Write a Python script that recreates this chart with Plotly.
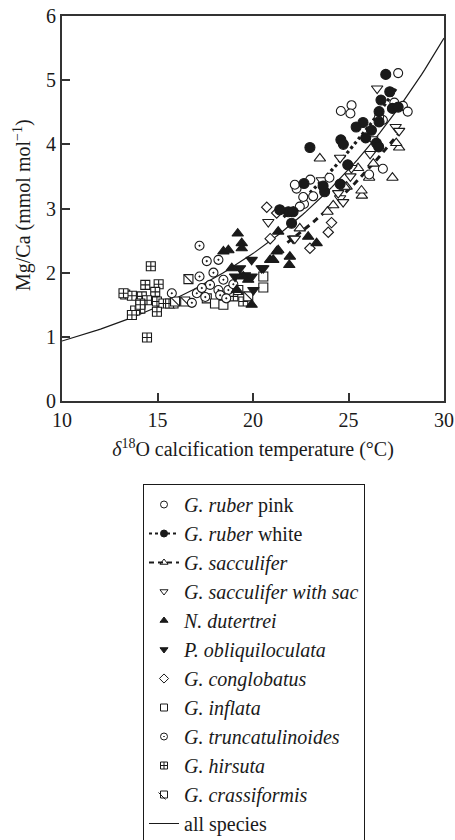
import numpy as np
import plotly.graph_objects as go

# ---------------- data ----------------
ruber_pink_T = [27.6, 25.16, 24.6, 25.1, 27.4, 27.85, 28.1, 26.8, 26.8, 26.08, 22.28, 22.67, 23.0, 22.19, 22.63, 23.15, 22.45, 26.6, 24.0]
ruber_pink_M = [5.11, 4.61, 4.52, 4.48, 4.65, 4.60, 4.51, 4.38, 3.62, 3.53, 3.31, 3.07, 3.45, 3.37, 3.18, 3.19, 3.03, 4.43, 3.48]

ruber_white_T = [26.95, 27.16, 26.7, 27.3, 27.6, 26.6, 25.76, 25.4, 26.2, 26.6, 26.46, 24.6, 22.98, 24.73, 24.96, 26.58, 24.56, 23.75, 22.67, 23.67, 22.02, 21.85, 22.1, 21.4, 25.9]
ruber_white_M = [5.09, 4.82, 4.69, 4.56, 4.58, 4.51, 4.34, 4.27, 4.22, 4.35, 4.02, 4.07, 3.95, 4.00, 3.68, 3.96, 3.38, 3.26, 3.39, 3.35, 2.77, 2.95, 2.95, 2.98, 4.10]

sacc_T = [23.5, 25.5, 26.08, 27.65, 27.3, 25.7, 24.9, 27.5, 25.68, 24.8, 22.45, 23.9, 26.3, 24.2]
sacc_M = [3.78, 3.63, 3.48, 3.95, 3.48, 3.20, 3.34, 4.02, 3.28, 3.34, 2.69, 2.95, 3.70, 3.05]

sacc_sac_T = [26.5, 27.47, 26.25, 24.56, 25.15, 26.13, 27.65, 25.1, 24.56, 20.8, 22.19, 24.72, 24.46, 23.6]
sacc_sac_M = [4.87, 4.27, 4.08, 3.79, 3.63, 3.85, 4.21, 3.50, 3.16, 2.79, 2.53, 3.10, 3.24, 3.44]

dutertrei_T = [19.2, 19.41, 19.41, 18.45, 18.71, 21.24, 18.89, 19.49, 19.75, 19.93, 19.15, 20.9, 21.32, 22.89, 23.33, 21.32, 21.06, 21.93, 21.9]
dutertrei_M = [2.61, 2.46, 2.38, 2.33, 2.35, 2.33, 2.07, 1.94, 1.89, 1.50, 1.73, 2.20, 2.64, 2.56, 2.46, 2.35, 2.20, 2.25, 2.12]

obliq_T = [19.93, 20.45, 19.32, 19.58, 19.93, 19.06, 20.02, 22.1, 20.54]
obliq_M = [2.20, 2.07, 2.07, 1.96, 1.94, 1.94, 1.73, 2.53, 2.07]

conglob_T = [20.72, 21.24, 20.9, 24.11, 23.94, 22.98]
conglob_M = [3.02, 2.93, 2.53, 2.78, 2.63, 2.38]

inflata_T = [20.54, 20.54, 17.58, 18.01, 18.45]
inflata_M = [1.94, 1.77, 1.60, 1.52, 1.50]

trunc_T = [17.2, 17.58, 18.19, 17.93, 17.2, 18.45, 17.75, 18.19, 18.71, 17.06, 17.32, 15.75, 16.8, 18.97, 18.28, 17.5, 18.6]
trunc_M = [2.42, 2.18, 2.20, 2.00, 1.94, 1.89, 1.81, 1.73, 1.73, 1.68, 1.76, 1.68, 1.53, 1.82, 1.65, 1.62, 1.60]

hirsuta_T = [14.65, 14.36, 15.06, 14.88, 13.31, 13.66, 14.18, 14.45, 14.1, 14.97, 15.31, 15.66, 14.1, 13.83, 13.66, 14.97, 18.97, 19.49, 15.84, 14.45, 13.22, 14.1]
hirsuta_M = [2.10, 1.81, 1.82, 1.70, 1.66, 1.64, 1.63, 1.57, 1.52, 1.55, 1.52, 1.52, 1.44, 1.41, 1.34, 1.39, 1.63, 1.55, 1.52, 0.99, 1.68, 1.50]

crass_T = [16.62, 15.92, 16.45, 19.75, 19.23]
crass_M = [1.90, 1.55, 1.55, 1.63, 1.73]

# exponential calibrations Mg/Ca = B * exp(A * T)
all_B, all_A, all_range = 0.38, 0.09, [10, 30]
white_B, white_A, white_range = 0.41, 0.09, [21.6, 27.5]
sacc_B, sacc_A, sacc_range = 0.347, 0.09, [21.8, 27.7]

# ---------------- styling ----------------
INK = "#1a1a1a"
FONT = "Liberation Serif, Times New Roman, serif"
L, R, T, B = 62, 11, 16, 439
W, H = 455, 840
PW, PH = W - L - R, H - T - B

fig = go.Figure()

def curve(b, a, rng):
    t = np.linspace(rng[0], rng[1], 120)
    return t, b * np.exp(a * t)

t, m = curve(all_B, all_A, all_range)
fig.add_trace(go.Scatter(x=t, y=m, mode="lines", line=dict(color=INK, width=1.2), showlegend=False))
t, m = curve(white_B, white_A, white_range)
fig.add_trace(go.Scatter(x=t, y=m, mode="lines", line=dict(color=INK, width=3.2, dash="3px,3px"), showlegend=False))
t, m = curve(sacc_B, sacc_A, sacc_range)
fig.add_trace(go.Scatter(x=t, y=m, mode="lines", line=dict(color=INK, width=3, dash="6px,5px"), showlegend=False))

def pts(x, y, symbol, size, filled=False):
    fig.add_trace(go.Scatter(
        x=x, y=y, mode="markers", showlegend=False,
        marker=dict(symbol=symbol, size=size, color=INK if filled else "white",
                    line=dict(color=INK, width=1.1))))

pts(hirsuta_T, hirsuta_M, "square-cross", 9)
pts(crass_T, crass_M, "square", 9)
fig.add_trace(go.Scatter(x=crass_T, y=crass_M, mode="markers", showlegend=False,
                         marker=dict(symbol="line-nw", size=9, color=INK, line=dict(color=INK, width=1.1))))
pts(inflata_T, inflata_M, "square", 9)
pts(trunc_T, trunc_M, "circle-dot", 9)
pts(conglob_T, conglob_M, "diamond", 8)
pts(dutertrei_T, dutertrei_M, "triangle-up", 10, filled=True)
pts(obliq_T, obliq_M, "triangle-down", 10, filled=True)
pts(sacc_T, sacc_M, "triangle-up", 10)
pts(sacc_sac_T, sacc_sac_M, "triangle-down", 10)
pts(ruber_pink_T, ruber_pink_M, "circle", 9)
pts(ruber_white_T, ruber_white_M, "circle", 10, filled=True)

# ---------------- legend entries ----------------
legend_items = [
    ("<i>G. ruber</i> pink", "circle-open", None),
    ("<i>G. ruber</i> white", "circle", "3px,3px"),
    ("<i>G. sacculifer</i>", "triangle-up-open", "5px,4px"),
    ("<i>G. sacculifer with sac</i>", "triangle-down-open", None),
    ("<i>N. dutertrei</i>", "triangle-up", None),
    ("<i>P. obliquiloculata</i>", "triangle-down", None),
    ("<i>G. conglobatus</i>", "diamond-open", None),
    ("<i>G. inflata</i>", "square-open", None),
    ("<i>G. truncatulinoides</i>", "circle-open-dot", None),
    ("<i>G. hirsuta</i>", "square-cross-open", None),
    ("<i>G. crassiformis</i>", "square-open", None),
]
for name, sym, dash in legend_items:
    if dash:
        fig.add_trace(go.Scatter(x=[None], y=[None], name=name, mode="lines+markers",
                                 line=dict(color=INK, width=2, dash=dash),
                                 marker=dict(symbol=sym, size=7, color=INK, line=dict(color=INK, width=1))))
    else:
        fig.add_trace(go.Scatter(x=[None], y=[None], name=name, mode="markers",
                                 marker=dict(symbol=sym, size=7, color=INK, line=dict(color=INK, width=1))))
fig.add_trace(go.Scatter(x=[None], y=[None], name="all species", mode="lines",
                         line=dict(color=INK, width=1)))

# diagonal stroke on the crassiformis legend symbol
def px2paper(px, py):
    return (px - L) / PW, (H - B - py) / PH
x0, y0 = px2paper(158.5, 792.5)
x1, y1 = px2paper(165.5, 799.5)
fig.add_shape(type="line", xref="paper", yref="paper", x0=x0, y0=y0, x1=x1, y1=y1,
              line=dict(color=INK, width=1))

axis_common = dict(
    showgrid=False, zeroline=False, showline=True, linecolor="#333", linewidth=2,
    mirror=True, ticks="inside", ticklen=8, tickwidth=1.5, tickcolor="#333",
    tickfont=dict(family=FONT, size=20, color=INK),
)
fig.update_xaxes(range=[10, 30], tick0=10, dtick=5,
                 title=dict(text="<i>δ</i><sup>18</sup>O calcification temperature (°C)",
                            font=dict(family=FONT, size=20, color=INK), standoff=12),
                 **axis_common)
fig.update_yaxes(range=[0, 6], tick0=0, dtick=1, **axis_common)

ax, ay = px2paper(22, 205)
fig.add_annotation(text="Mg/Ca (mmol mol<sup>−1</sup>)", xref="paper", yref="paper",
                   x=ax, y=ay, textangle=-90, showarrow=False, xanchor="center", yanchor="middle",
                   font=dict(family=FONT, size=20, color=INK))

fig.update_layout(
    width=W, height=H,
    margin=dict(l=L, r=R, t=T, b=B, autoexpand=False),
    paper_bgcolor="white", plot_bgcolor="white",
    font=dict(family=FONT, size=20, color=INK),
    legend=dict(xref="container", yref="container", x=143/W, y=1-484/H,
                xanchor="left", yanchor="top", bordercolor=INK, borderwidth=1,
                bgcolor="rgba(0,0,0,0)", font=dict(family=FONT, size=20, color=INK),
                itemwidth=30, tracegroupgap=0),
)

fig.write_html("out.html")
